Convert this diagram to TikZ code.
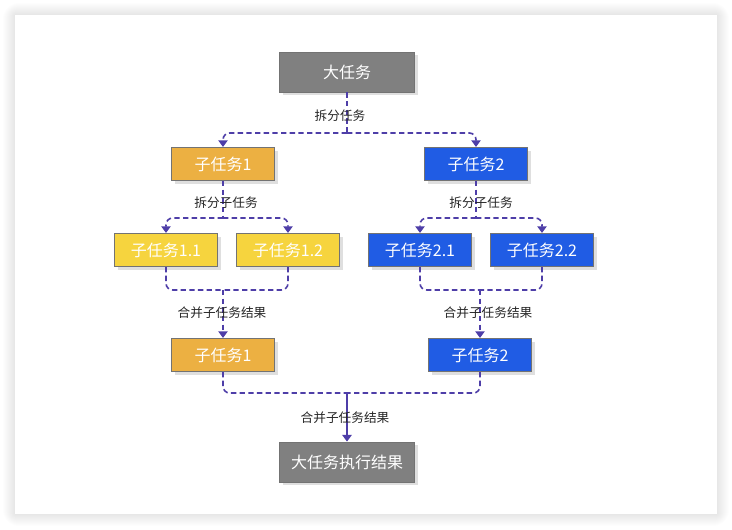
\documentclass[tikz,border=0pt]{standalone}
\usepackage{fontspec}
\newfontfamily\cjk{Noto Sans CJK SC}
\usetikzlibrary{arrows.meta,shadows}
\definecolor{taskgray}{RGB}{128,128,128}
\definecolor{taskorange}{RGB}{236,176,66}
\definecolor{taskyellow}{RGB}{246,212,62}
\definecolor{taskblue}{RGB}{32,92,228}
\definecolor{flowline}{RGB}{78,62,168}
\tikzset{
  taskbox/.style={draw=black!55, line width=0.6pt, text=white, inner sep=0pt,
    font=\cjk\fontsize{12}{14}\selectfont,
    drop shadow={shadow xshift=2.5pt, shadow yshift=-2.5pt, opacity=0.25}},
  bigtask/.style={taskbox, fill=taskgray, minimum width=101pt, minimum height=30pt},
  subtask/.style={taskbox, minimum width=77pt, minimum height=25pt},
  flow/.style={flowline, dashed, dash pattern=on 4pt off 2.5pt, line width=1.2pt, rounded corners=5pt},
  arr/.style={-{Triangle[width=7pt,length=5pt]}},
  steplabel/.style={font=\cjk\fontsize{9.5}{11}\selectfont, text=black!85, inner sep=1pt}
}
\begin{document}
\begin{tikzpicture}[x=0.75pt, y=-0.75pt]
\useasboundingbox (0,0) rectangle (732,529);
\fill[white] (0,0) rectangle (732,529);
\foreach \d in {1,...,12}
  \fill[black, opacity=0.009, rounded corners=\d] (15-\d,15-\d) rectangle (717+\d,514+\d);
\fill[white] (15,15) rectangle (717,514);

\node[bigtask] (big) at (347,72) {大任务};
\node[subtask, fill=taskorange] (sub1) at (223,164) {子任务1};
\node[subtask, fill=taskblue] (sub2) at (476,164) {子任务2};
\node[subtask, fill=taskyellow] (s11) at (166,250) {子任务1.1};
\node[subtask, fill=taskyellow] (s12) at (288,250) {子任务1.2};
\node[subtask, fill=taskblue] (s21) at (420,250) {子任务2.1};
\node[subtask, fill=taskblue] (s22) at (542,250) {子任务2.2};
\node[subtask, fill=taskorange] (m1) at (223,355) {子任务1};
\node[subtask, fill=taskblue] (m2) at (480,355) {子任务2};
\node[bigtask] (res) at (347,462) {大任务执行结果};

\coordinate (split0) at (347,133);
\coordinate (split1) at (223,218);
\coordinate (split2) at (476,218);
\coordinate (merge1) at (223,290);
\coordinate (merge2) at (480,290);
\coordinate (merge0) at (347,393);

\draw[flow] (big.south) -- (split0);
\draw[flow, arr] (split0) -| (sub1.north);
\draw[flow, arr] (split0) -| (sub2.north);
\draw[flow] (sub1.south) -- (split1);
\draw[flow, arr] (split1) -| (s11.north);
\draw[flow, arr] (split1) -| (s12.north);
\draw[flow] (sub2.south) -- (split2);
\draw[flow, arr] (split2) -| (s21.north);
\draw[flow, arr] (split2) -| (s22.north);
\draw[flow] (s11.south) |- (merge1);
\draw[flow] (s12.south) |- (merge1);
\draw[flow, arr] (merge1) -- (m1.north);
\draw[flow] (s21.south) |- (merge2);
\draw[flow] (s22.south) |- (merge2);
\draw[flow, arr] (merge2) -- (m2.north);
\draw[flow] (m1.south) |- (merge0);
\draw[flow] (m2.south) |- (merge0);
\draw[flowline, line width=1.2pt, arr] (merge0) -- (res.north);

\node[steplabel] (lsplit0) at (340,116) {拆分任务};
\node[steplabel] (lsplit1) at (226,203) {拆分子任务};
\node[steplabel] (lsplit2) at (481,203) {拆分子任务};
\node[steplabel] (lmerge1) at (222,313) {合并子任务结果};
\node[steplabel] (lmerge2) at (488,313) {合并子任务结果};
\node[steplabel] (lmerge0) at (345,418) {合并子任务结果};
\end{tikzpicture}
\end{document}
